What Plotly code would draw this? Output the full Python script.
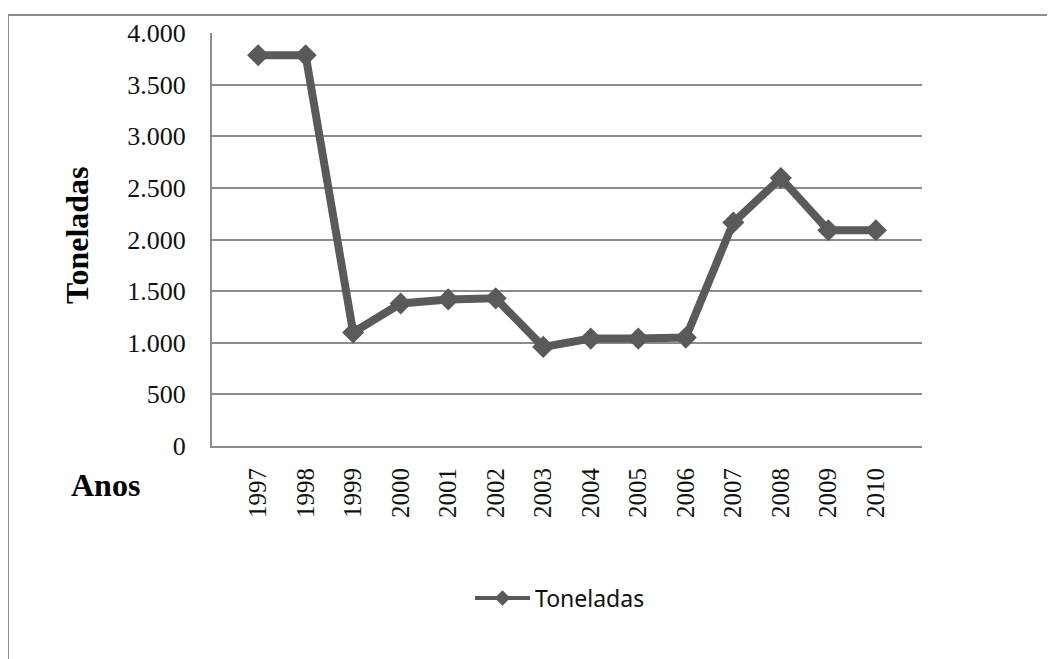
import plotly.graph_objects as go

anos = ["1997", "1998", "1999", "2000", "2001", "2002", "2003",
        "2004", "2005", "2006", "2007", "2008", "2009", "2010"]
toneladas = [3785, 3785, 1100, 1380, 1420, 1430, 960,
             1040, 1040, 1050, 2165, 2595, 2090, 2090]
y_ticks = [0, 500, 1000, 1500, 2000, 2500, 3000, 3500, 4000]
serie_nome = "Toneladas"

W, H = 1055, 659
OFF = 8  # page body margin offset
def X(v):
    return v - OFF
def Y(v):
    return v - OFF

L, T = X(212), Y(33)
R, B = W - X(922), H - Y(446)
pw, ph = W - L - R, H - T - B

def px(x):
    return (X(x) - L) / pw

def py(y):
    return (H - B - Y(y)) / ph

grid = "#8c8c8c"
serie_cor = "#5a5a5a"
serif = "Liberation Serif, Times New Roman, serif"

fig = go.Figure()
fig.add_trace(go.Scatter(
    x=anos, y=toneladas, name=serie_nome, mode="lines+markers",
    line=dict(color=serie_cor, width=8),
    marker=dict(symbol="diamond", size=17, color=serie_cor),
    showlegend=False,
))
# legend-only entry (thinner symbol as in the reference legend)
fig.add_trace(go.Scatter(
    x=[None], y=[None], name=serie_nome, mode="lines+markers",
    line=dict(color=serie_cor, width=4),
    marker=dict(symbol="diamond", size=12, color=serie_cor),
    showlegend=True,
))

fig.update_layout(
    width=W, height=H, autosize=False,
    margin=dict(l=L, r=R, t=T, b=B),
    paper_bgcolor="white", plot_bgcolor="white",
    separators=",.",
    showlegend=True,
    legend=dict(orientation="h", x=px(560), y=py(598), xanchor="center",
                yanchor="middle", font=dict(family="Noto Sans, Open Sans, sans-serif",
                                            size=23, color="#111"),
                itemwidth=55),
    xaxis=dict(
        type="category", tickangle=-90, showgrid=False,
        showline=True, linecolor=grid, linewidth=2,
        ticks="", ticklabelstandoff=10,
        tickfont=dict(family=serif, size=25, color="#111"),
    ),
    yaxis=dict(
        range=[0, 4000], tickvals=y_ticks, tickformat=",d",
        showgrid=True, gridcolor=grid, gridwidth=2,
        showline=True, linecolor=grid, linewidth=2,
        ticks="", ticklabelstandoff=19, zeroline=False,
        tickfont=dict(family=serif, size=26, color="#111"),
    ),
    annotations=[
        dict(text="<b>Toneladas</b>", x=px(77), y=py(235), xref="paper", yref="paper",
             textangle=-90, showarrow=False, xanchor="center", yanchor="middle",
             font=dict(family=serif, size=32, color="#000")),
        dict(text="<b>Anos</b>", x=px(105), y=py(485), xref="paper", yref="paper",
             showarrow=False, xanchor="center", yanchor="middle",
             font=dict(family=serif, size=32, color="#000")),
    ],
    shapes=[
        dict(type="line", xref="paper", yref="paper", x0=px(8), x1=px(8),
             y0=py(15), y1=py(720), line=dict(color=grid, width=2)),
        dict(type="line", xref="paper", yref="paper", x0=px(8), x1=px(1100),
             y0=py(15), y1=py(15), line=dict(color=grid, width=2)),
    ],
)

fig.write_html("out.html")
